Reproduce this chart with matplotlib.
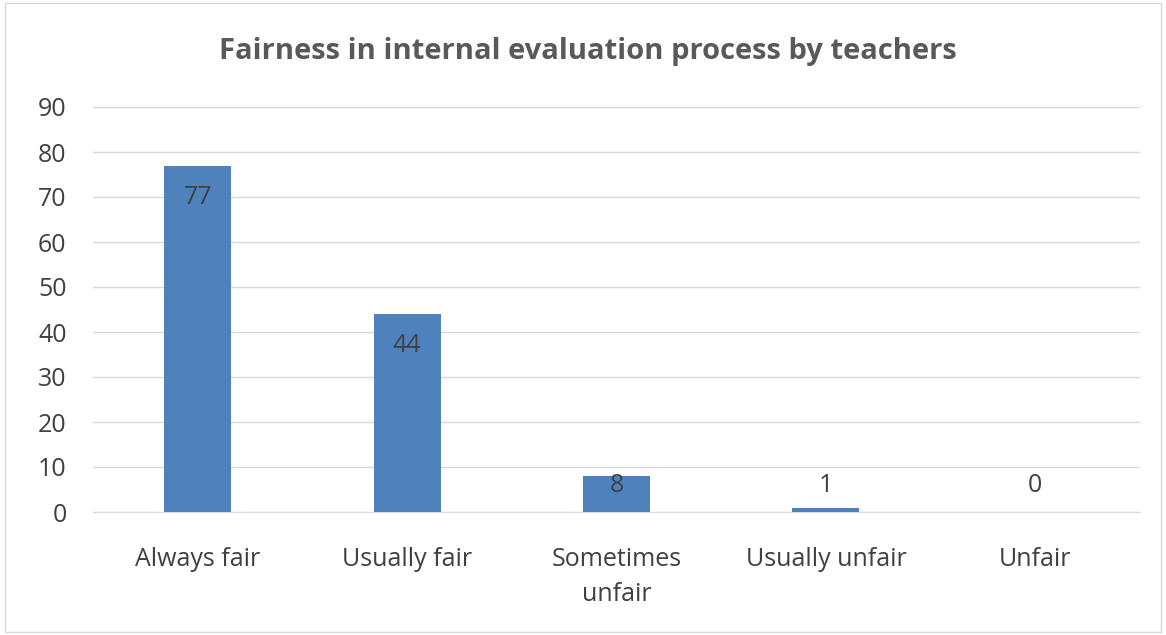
import matplotlib.pyplot as plt
from matplotlib.patches import Rectangle

categories = ['Always fair', 'Usually fair', 'Sometimes\nunfair', 'Usually unfair', 'Unfair']
values = [77, 44, 8, 1, 0]
title = 'Fairness in internal evaluation process by teachers'

plt.rcParams['font.family'] = ['Open Sans', 'DejaVu Sans']

fig = plt.figure(figsize=(11.66, 6.35), dpi=100)
ax = fig.add_axes([93 / 1166, 1 - 512 / 635, (1140 - 93) / 1166, (512 - 107) / 635])

x = range(len(categories))
ax.bar(x, values, width=0.32, color='#4F81BD', zorder=3)

# 数值标签（放在柱内顶部，太矮的柱子就放在固定高度）
for i, v in enumerate(values):
    ax.text(i, max(v - 7, 6), str(v), ha='center', va='center', fontsize=18, color='#404040', zorder=4)

ax.set_xlim(-0.5, len(categories) - 0.5)
ax.set_ylim(0, 90)
ax.set_yticks(range(0, 91, 10))
ax.set_xticks(list(x))
ax.set_xticklabels(categories, fontsize=18, color='#404040', linespacing=1.55)
ax.tick_params(axis='y', labelsize=18, labelcolor='#404040', length=0, pad=19)
ax.tick_params(axis='x', length=0, pad=25)
ax.grid(axis='y', color='#D9D9D9', linewidth=1, zorder=0)
for s in ['top', 'right', 'left']:
    ax.spines[s].set_visible(False)
ax.spines['bottom'].set_color('#D9D9D9')

fig.text(588 / 1166, 1 - 52 / 635, title, ha='center', va='center', fontsize=21,
         fontweight='bold', color='#595959')

# 外框
fig.patches.append(Rectangle((0.004, 0.004), 0.992, 0.992, transform=fig.transFigure,
                             fill=False, edgecolor='#D9D9D9', linewidth=1))

fig.savefig('out.png', dpi=100)
